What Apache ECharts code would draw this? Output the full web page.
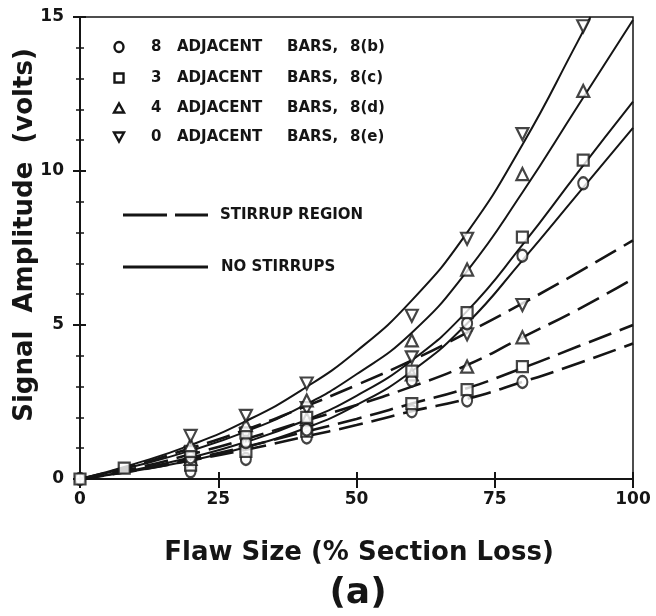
<!DOCTYPE html>
<html>
<head>
<meta charset="utf-8">
<script src="https://cdn.jsdelivr.net/npm/echarts@6/dist/echarts.min.js"></script>
<style>
  html, body { margin: 0; padding: 0; background: #ffffff; }
  #chart { width: 656px; height: 616px; }
</style>
</head>
<body>
<div id="chart"></div>
<script>
// Axis tick values
const xTickValues = [0, 25, 50, 75, 100];
const yTickValues = [0, 5, 10, 15];

// Legend entries: adjacent bar count and figure reference
const groupCounts = ['8', '3', '4', '0'];
const groupRefs = ['8(b)', '8(c)', '8(d)', '8(e)'];

// Measured points, no stirrups
const bars8Pts = [[0, 0], [20, 0.7], [30, 1.2], [41, 1.6], [60, 3.2], [70, 5.05], [80, 7.25], [91, 9.6]];
const bars3Pts = [[0, 0], [8, 0.35], [20, 0.9], [30, 1.5], [41, 2.0], [60, 3.5], [70, 5.4], [80, 7.85], [91, 10.35]];
const bars4Pts = [[20, 1.1], [30, 1.75], [41, 2.55], [60, 4.5], [70, 6.8], [80, 9.9], [91, 12.6]];
const bars0Pts = [[20, 1.4], [30, 2.05], [41, 3.1], [60, 5.3], [70, 7.8], [80, 11.2], [91, 14.7]];

// Measured points, stirrup region
const bars8StirPts = [[20, 0.25], [30, 0.65], [41, 1.35], [60, 2.2], [70, 2.55], [80, 3.15]];
const bars3StirPts = [[20, 0.45], [30, 0.9], [41, 1.55], [60, 2.45], [70, 2.9], [80, 3.65]];
const bars4StirPts = [[20, 0.65], [30, 1.25], [41, 1.95], [60, 3.4], [70, 3.65], [80, 4.6]];
const bars0StirPts = [[20, 0.85], [30, 1.45], [41, 2.3], [60, 3.95], [70, 4.7], [80, 5.65]];

// Fitted curves, no stirrups
const fit8 = [[0, 0], [10, 0.27], [20, 0.6], [30, 1.03], [40, 1.6], [50, 2.4], [60, 3.5], [70, 5.05], [80, 7.1], [90, 9.25], [100, 11.4]];
const fit3 = [[0, 0], [10, 0.3], [20, 0.7], [30, 1.2], [40, 1.85], [50, 2.7], [60, 3.85], [70, 5.45], [80, 7.6], [90, 9.95], [100, 12.25]];
const fit4 = [[0, 0], [10, 0.42], [20, 0.92], [30, 1.54], [40, 2.34], [50, 3.4], [60, 4.75], [70, 6.75], [80, 9.3], [90, 12.1], [100, 14.9]];
const fit0 = [[0, 0], [10, 0.5], [20, 1.1], [30, 1.88], [40, 2.88], [50, 4.15], [60, 5.8], [70, 8.0], [80, 10.85], [90, 14.2], [92.3, 15]];

// Fitted curves, stirrup region
const fitStir8 = [[0, 0], [10, 0.27], [20, 0.6], [30, 0.95], [40, 1.35], [50, 1.75], [60, 2.2], [70, 2.6], [80, 3.15], [90, 3.75], [100, 4.4]];
const fitStir3 = [[0, 0], [10, 0.3], [20, 0.65], [30, 1.05], [40, 1.5], [50, 1.95], [60, 2.45], [70, 2.95], [80, 3.6], [90, 4.3], [100, 5.0]];
const fitStir4 = [[0, 0], [10, 0.35], [20, 0.8], [30, 1.3], [40, 1.85], [50, 2.4], [60, 3.0], [70, 3.7], [80, 4.6], [90, 5.5], [100, 6.5]];
const fitStir0 = [[0, 0], [10, 0.45], [20, 1.0], [30, 1.6], [40, 2.3], [50, 3.05], [60, 3.85], [70, 4.75], [80, 5.7], [90, 6.7], [100, 7.75]];

const INK = '#151515';
const FONT = '"DejaVu Sans", sans-serif';

const markerStyles = [
  { symbol: 'circle', symbolSize: [10, 12], symbolRotate: 0 },
  { symbol: 'rect', symbolSize: [11, 11], symbolRotate: 0 },
  { symbol: 'triangle', symbolSize: [12, 12], symbolRotate: 0 },
  { symbol: 'triangle', symbolSize: [12, 12], symbolRotate: 180 }
];

function fitLine(name, data, dashed) {
  return {
    name: name,
    type: 'line',
    data: data,
    smooth: 0.5,
    showSymbol: false,
    silent: true,
    z: 2,
    lineStyle: {
      color: INK,
      width: dashed ? 2.6 : 2,
      type: dashed ? [24, 9] : 'solid'
    }
  };
}

function pointSeries(name, data, idx) {
  const m = markerStyles[idx];
  return {
    name: name,
    type: 'scatter',
    data: data,
    symbol: m.symbol,
    symbolSize: m.symbolSize,
    symbolRotate: m.symbolRotate,
    z: 5,
    itemStyle: { color: '#ffffff', borderColor: INK, borderWidth: 2.2 }
  };
}

const series = [
  fitLine('fit 8', fit8, false),
  fitLine('fit 3', fit3, false),
  fitLine('fit 4', fit4, false),
  fitLine('fit 0', fit0, false),
  fitLine('stirrup fit 8', fitStir8, true),
  fitLine('stirrup fit 3', fitStir3, true),
  fitLine('stirrup fit 4', fitStir4, true),
  fitLine('stirrup fit 0', fitStir0, true),
  pointSeries('8 stirrup', bars8StirPts, 0),
  pointSeries('3 stirrup', bars3StirPts, 1),
  pointSeries('4 stirrup', bars4StirPts, 2),
  pointSeries('0 stirrup', bars0StirPts, 3),
  pointSeries('8', bars8Pts, 0),
  pointSeries('3', bars3Pts, 1),
  pointSeries('4', bars4Pts, 2),
  pointSeries('0', bars0Pts, 3)
];

// Legend block drawn as graphic elements
const legendRowsY = [47, 78, 108, 137];
const legendText = { fill: INK, font: 'bold 15px ' + FONT, verticalAlign: 'middle', align: 'left' };
const graphics = [];
function triPoints(cx, cy, s, down) {
  const h = s * 0.9;
  return down
    ? [[cx - s / 2, cy - h / 2], [cx + s / 2, cy - h / 2], [cx, cy + h / 2]]
    : [[cx - s / 2, cy + h / 2], [cx + s / 2, cy + h / 2], [cx, cy - h / 2]];
}
const symStyle = { fill: '#ffffff', stroke: INK, lineWidth: 2.4 };
graphics.push({ type: 'ellipse', shape: { cx: 119, cy: legendRowsY[0], rx: 4.5, ry: 5 }, style: symStyle });
graphics.push({ type: 'rect', shape: { x: 114.5, y: legendRowsY[1] - 4.5, width: 9, height: 9 }, style: symStyle });
graphics.push({ type: 'polygon', shape: { points: triPoints(119, legendRowsY[2], 10, false) }, style: symStyle });
graphics.push({ type: 'polygon', shape: { points: triPoints(119, legendRowsY[3], 10, true) }, style: symStyle });
groupCounts.forEach(function (c, i) {
  const y = legendRowsY[i];
  graphics.push({ type: 'text', x: 151, y: y, style: Object.assign({ text: c }, legendText) });
  graphics.push({ type: 'text', x: 177, y: y, style: Object.assign({ text: 'ADJACENT' }, legendText) });
  graphics.push({ type: 'text', x: 287, y: y, style: Object.assign({ text: 'BARS,' }, legendText) });
  graphics.push({ type: 'text', x: 350, y: y, style: Object.assign({ text: groupRefs[i] }, legendText) });
});
graphics.push({ type: 'line', shape: { x1: 123, y1: 215, x2: 167, y2: 215 }, style: { stroke: INK, lineWidth: 3 } });
graphics.push({ type: 'line', shape: { x1: 175, y1: 215, x2: 208, y2: 215 }, style: { stroke: INK, lineWidth: 3 } });
graphics.push({ type: 'text', x: 220, y: 215, style: Object.assign({ text: 'STIRRUP REGION' }, legendText) });
graphics.push({ type: 'line', shape: { x1: 123, y1: 267, x2: 208, y2: 267 }, style: { stroke: INK, lineWidth: 3 } });
graphics.push({ type: 'text', x: 221, y: 267, style: Object.assign({ text: 'NO STIRRUPS' }, legendText) });

// Axis titles and panel label
graphics.push({
  type: 'text', x: 25, y: 235, rotation: Math.PI / 2,
  style: { text: 'Signal  Amplitude  (volts)', fill: INK, font: 'bold 26px ' + FONT, align: 'center', verticalAlign: 'middle' }
});
graphics.push({
  type: 'text', x: 359, y: 553,
  style: { text: 'Flaw Size (% Section Loss)', fill: INK, font: 'bold 26px ' + FONT, align: 'center', verticalAlign: 'middle' }
});
graphics.push({
  type: 'text', x: 358, y: 594,
  style: { text: '(a)', fill: INK, font: 'bold 36px ' + FONT, align: 'center', verticalAlign: 'middle' }
});

const tickLabel = { color: INK, fontFamily: FONT, fontWeight: 'bold', fontSize: 17 };

const option = {
  backgroundColor: '#ffffff',
  animation: false,
  grid: { left: 80, right: 23, top: 17, bottom: 137, show: true, borderColor: INK, borderWidth: 1.5, backgroundColor: 'transparent' },
  xAxis: [
    {
      type: 'value', min: xTickValues[0], max: xTickValues[xTickValues.length - 1], interval: xTickValues[1] - xTickValues[0],
      position: 'bottom',
      axisLine: { show: true, onZero: false, lineStyle: { color: INK, width: 2 } },
      axisTick: { show: true, length: 9, lineStyle: { color: INK, width: 2 } },
      axisLabel: Object.assign({ margin: 12 }, tickLabel),
      splitLine: { show: false }
    },
    {
      type: 'value', min: xTickValues[0], max: xTickValues[xTickValues.length - 1], interval: xTickValues[1] - xTickValues[0],
      position: 'bottom',
      axisLine: { show: false, onZero: false },
      axisTick: { show: true, inside: true, length: 7, lineStyle: { color: INK, width: 2 } },
      axisLabel: { show: false },
      splitLine: { show: false }
    }
  ],
  yAxis: [
    {
      type: 'value', min: yTickValues[0], max: yTickValues[yTickValues.length - 1], interval: yTickValues[1] - yTickValues[0],
      position: 'left',
      axisLine: { show: true, onZero: false, lineStyle: { color: INK, width: 2 } },
      axisTick: { show: true, length: 7, lineStyle: { color: INK, width: 2 } },
      minorTick: { show: true, splitNumber: 5, length: 4, lineStyle: { color: INK, width: 1.5 } },
      axisLabel: Object.assign({ margin: 16 }, tickLabel),
      splitLine: { show: false }
    },
    {
      type: 'value', min: yTickValues[0], max: yTickValues[yTickValues.length - 1], interval: yTickValues[1] - yTickValues[0],
      position: 'left',
      axisLine: { show: false, onZero: false },
      axisTick: { show: true, inside: true, length: 6, lineStyle: { color: INK, width: 2 } },
      minorTick: { show: true, splitNumber: 5, length: 4, lineStyle: { color: INK, width: 1.5 } },
      axisLabel: { show: false },
      splitLine: { show: false }
    }
  ],
  graphic: graphics,
  series: series
};

const chart = echarts.init(document.getElementById('chart'), null, { renderer: 'canvas' });
chart.setOption(option);
</script>
</body>
</html>
